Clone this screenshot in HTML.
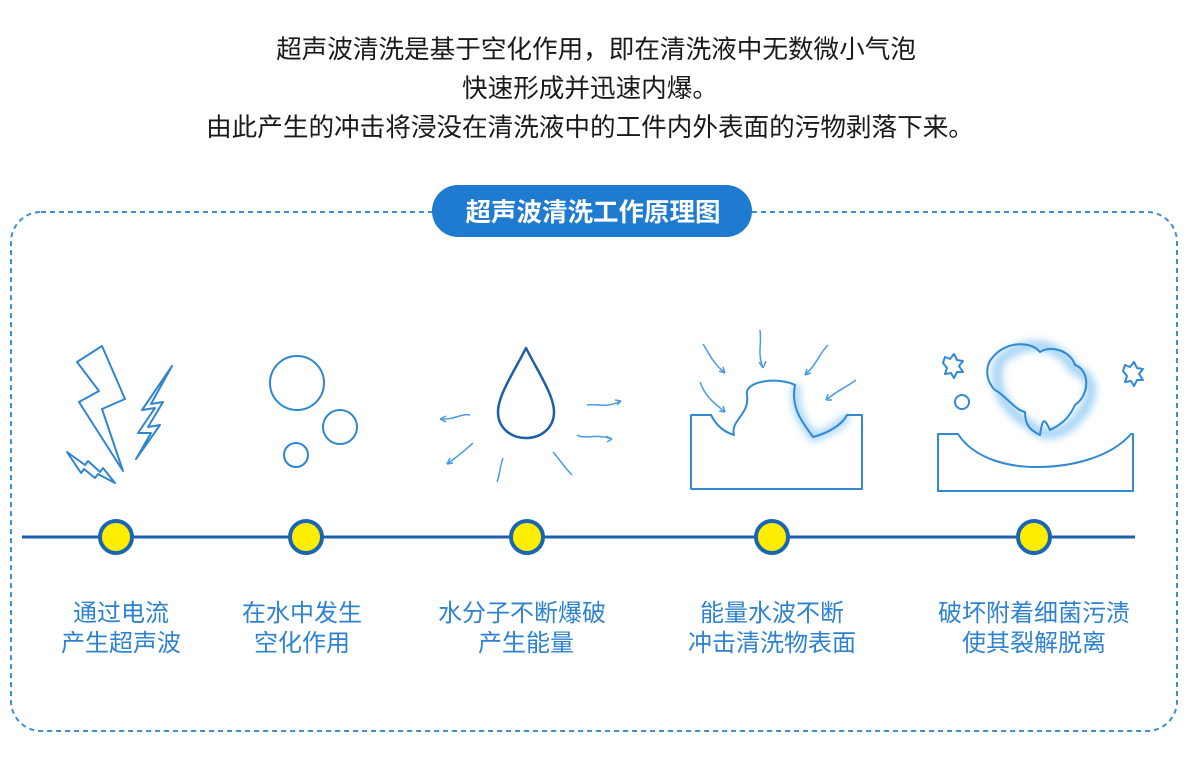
<!DOCTYPE html>
<html><head><meta charset="utf-8"><style>
body{margin:0;background:#fff;width:1191px;height:758px;overflow:hidden}
svg{display:block}
text{font-family:"Liberation Sans","Noto Sans CJK SC",sans-serif}
</style></head><body>
<svg width="1191" height="758" viewBox="0 0 1191 758" xmlns="http://www.w3.org/2000/svg">
<defs>
<filter id="gl" x="-30%" y="-30%" width="160%" height="160%"><feGaussianBlur stdDeviation="4"/></filter>
</defs>
<g font-size="25.6" fill="#1a1a1a" text-anchor="middle">
<text x="596" y="58">超声波清洗是基于空化作用，即在清洗液中无数微小气泡</text>
<text x="590" y="97">快速形成并迅速内爆。</text>
<text x="590" y="136">由此产生的冲击将浸没在清洗液中的工件内外表面的污物剥落下来。</text>
</g>
<rect x="11" y="212" width="1166" height="519" rx="30" fill="none" stroke="#3d8fd2" stroke-width="2" stroke-dasharray="5,4"/>
<rect x="432" y="185" width="320" height="52" rx="26" fill="#1e7bd0"/>
<text x="593" y="221" font-size="25.5" font-weight="bold" fill="#fff" text-anchor="middle">超声波清洗工作原理图</text>

<g fill="none" stroke="#2f86d0" stroke-width="2" stroke-linejoin="round">
<path d="M77,362 L102,346 L125,399 L102,409 L123,471 L79,402 L99,391 Z"/>
<path d="M172,366 L142,410 L155,408 L138,433 L151,433 L136,459 L160,425 L148,427 L163,402 L151,404 Z"/>
<path d="M67,452 L85,465 L88,461 L100,472 L103,468 L115,483 L98,474 L95,478 L84,469 L81,473 Z"/>
<circle cx="297" cy="383" r="27"/>
<circle cx="340" cy="427" r="17"/>
<circle cx="296" cy="455" r="12"/>
<path d="M526,348 C515,370 498,395 498,412 C498,428 511,438 526,438 C541,438 554,428 554,412 C554,395 537,370 526,348 Z" stroke="#1d5fa8" stroke-width="2.5"/>
</g>
<g fill="none" stroke="#4a9be0" stroke-width="1.5">
<path d="M470,415 C462,413 455,420 440,419"/><path d="M440,419 l6,-3 M440,419 l6,3"/>
<path d="M473,443 C465,450 460,455 447,464"/><path d="M447,464 l3,-6 M447,464 l6,-1"/>
<path d="M503,458 C500,466 500,474 497,482"/>
<path d="M553,452 C560,460 565,468 572,475"/>
<path d="M587,405 C597,403 605,409 621,401"/><path d="M621,401 l-6,-1 M621,401 l-4,4"/>
<path d="M577,435 C585,440 595,433 612,439"/><path d="M612,439 l-6,-3 M612,439 l-5,3"/>
<path d="M703,344 C710,355 712,362 725,373"/><path d="M725,373 l-2,-6 M725,373 l-6,-2"/>
<path d="M760,330 C762,345 757,352 763,368"/><path d="M763,368 l-4,-6 M763,368 l3,-7"/>
<path d="M828,345 C818,355 818,363 805,375"/><path d="M805,375 l2,-6 M805,375 l6,-2"/>
<path d="M700,382 C705,395 710,400 725,412"/><path d="M725,412 l-2,-6 M725,412 l-6,-1"/>
<path d="M856,380 C845,388 838,390 826,400"/><path d="M826,400 l2,-6 M826,400 l6,0"/>
</g>
<path d="M797,385 C792,410 805,425 813,437 C830,432 842,425 847,415" fill="none" stroke="#7cbff0" stroke-width="8" filter="url(#gl)" opacity="0.7"/>
<path d="M1000,360 C1030,335 1060,345 1075,370 C1095,375 1095,400 1080,415 C1065,435 1045,440 1030,425 C1005,410 990,385 1000,360 Z" fill="none" stroke="#7cbff0" stroke-width="10" filter="url(#gl)" opacity="0.7"/>
<g fill="none" stroke="#3189d3" stroke-width="2" stroke-linejoin="round">
<path d="M691,415 L711,415 C716,425 724,432 734,435 C730,420 750,415 747,395 C744,380 780,377 795,385 C790,410 805,425 813,437 C828,433 842,425 847,415 L862,415 L862,489 L691,489 Z"/>
<path d="M938,434 L958,434 C975,460 1010,467 1037,467 C1070,467 1110,458 1131,434 L1133,434 L1133,491 L938,491 Z"/>
<path d="M993,357 C1005,342 1030,340 1040,352 C1050,345 1070,350 1075,365 C1090,370 1090,395 1075,405 C1068,420 1060,425 1050,430 C1045,420 1043,415 1040,435 C1030,430 1025,425 1025,412 C1015,410 1005,395 995,390 C985,380 985,365 993,357 Z"/>
<path d="M945,357 l5,2 l4,-5 l3,6 l6,1 l-4,5 l4,6 l-6,0 l-3,6 l-3,-5 l-6,1 l2,-6 l-4,-5 z"/>
<path d="M1125,365 l5,2 l4,-5 l3,6 l6,1 l-4,5 l4,6 l-6,0 l-3,6 l-3,-5 l-6,1 l2,-6 l-4,-5 z"/>
<circle cx="962" cy="402" r="7"/>
</g>

<line x1="22" y1="537" x2="1135" y2="537" stroke="#1c5fae" stroke-width="3"/>
<g fill="#ffee00" stroke="#1a66b5" stroke-width="4">
<circle cx="116" cy="537" r="16"/><circle cx="306" cy="537" r="16"/><circle cx="527" cy="537" r="16"/><circle cx="772" cy="537" r="16"/><circle cx="1034" cy="537" r="16"/>
</g>
<g font-size="24" fill="#2d82d2" text-anchor="middle">
<text x="121" y="621">通过电流</text><text x="121" y="651">产生超声波</text>
<text x="302" y="621">在水中发生</text><text x="302" y="651">空化作用</text>
<text x="522" y="621">水分子不断爆破</text><text x="526" y="651">产生能量</text>
<text x="772" y="621">能量水波不断</text><text x="772" y="651">冲击清洗物表面</text>
<text x="1034" y="621">破坏附着细菌污渍</text><text x="1034" y="651">使其裂解脱离</text>
</g>
</svg>
</body></html>
